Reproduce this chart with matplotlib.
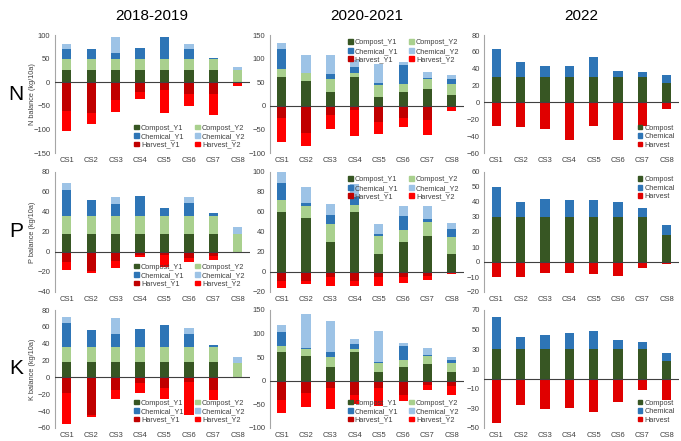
import numpy as np
import matplotlib
matplotlib.use('Agg')
import matplotlib.pyplot as plt
from matplotlib.patches import Patch

plt.rcParams['font.family'] = ['Liberation Sans', 'DejaVu Sans']

sites = ['CS1', 'CS2', 'CS3', 'CS4', 'CS5', 'CS6', 'CS7', 'CS8']
years = ['2018-2019', '2020-2021', '2022']
nutrients = ['N', 'P', 'K']

# N balance, 2018-2019
n1_comp_y1 = [25, 25, 25, 25, 25, 25, 25, 0]
n1_comp_y2 = [25, 25, 25, 25, 25, 25, 25, 25]
n1_chem_y1 = [20, 20, 12, 22, 45, 20, 2, 0]
n1_chem_y2 = [10, 0, 33, 0, 0, 10, 0, 7]
n1_harv_y1 = [-62, -65, -38, -20, -16, -25, -26, -2]
n1_harv_y2 = [-41, -24, -25, -16, -50, -25, -44, -6]
# N balance, 2020-2021
n2_comp_y1 = [60, 53, 30, 60, 18, 30, 36, 23]
n2_comp_y2 = [17, 17, 26, 10, 27, 17, 20, 24]
n2_chem_y1 = [44, 0, 12, 12, 3, 40, 2, 10]
n2_chem_y2 = [13, 38, 40, 14, 40, 5, 14, 8]
n2_harv_y1 = [-26, -58, -19, -8, -34, -26, -30, -3]
n2_harv_y2 = [-50, -27, -31, -55, -26, -19, -32, -9]
# N balance, 2022
n3_comp = [30, 30, 30, 30, 30, 30, 30, 23]
n3_chem = [33, 18, 13, 13, 24, 7, 6, 10]
n3_harv = [-28, -29, -32, -45, -28, -45, -28, -8]

# P balance, 2018-2019
p1_comp_y1 = [18, 18, 18, 18, 18, 18, 18, 0]
p1_comp_y2 = [18, 18, 18, 18, 18, 18, 18, 18]
p1_chem_y1 = [26, 16, 12, 20, 8, 13, 3, 0]
p1_chem_y2 = [7, 0, 7, 0, 0, 6, 0, 7]
p1_harv_y1 = [-10, -19, -9, -3, -3, -6, -4, -0.5]
p1_harv_y2 = [-8, -2, -7, -2, -12, -4, -4, -0.5]
# P balance, 2020-2021
p2_comp_y1 = [60, 54, 30, 60, 18, 30, 36, 18]
p2_comp_y2 = [12, 12, 18, 7, 18, 12, 14, 17]
p2_chem_y1 = [17, 3, 9, 8, 2, 14, 3, 8]
p2_chem_y2 = [11, 16, 11, 13, 10, 10, 13, 6]
p2_harv_y1 = [-9, -9, -5, -9, -5, -5, -4, -1]
p2_harv_y2 = [-7, -3, -9, -5, -9, -6, -4, -1]
# P balance, 2022
p3_comp = [30, 30, 30, 30, 30, 30, 30, 18]
p3_chem = [20, 10, 12, 11, 11, 10, 6, 7]
p3_harv = [-10, -10, -7, -7, -8, -9, -4, -1]

# K balance, 2018-2019
k1_comp_y1 = [18, 18, 18, 18, 18, 18, 18, 0]
k1_comp_y2 = [18, 18, 18, 18, 18, 18, 18, 17]
k1_chem_y1 = [29, 20, 15, 22, 26, 16, 3, 0]
k1_chem_y2 = [7, 0, 20, 0, 0, 7, 0, 7]
k1_harv_y1 = [-19, -45, -15, -7, -13, -5, -15, -0.5]
k1_harv_y2 = [-36, -2, -10, -12, -13, -40, -12, -0.5]
# K balance, 2020-2021
k2_comp_y1 = [60, 53, 30, 60, 18, 30, 36, 18]
k2_comp_y2 = [13, 15, 20, 8, 20, 15, 17, 19]
k2_chem_y1 = [30, 2, 12, 10, 2, 28, 2, 7]
k2_chem_y2 = [15, 72, 65, 11, 66, 8, 14, 7]
k2_harv_y1 = [-40, -25, -15, -30, -15, -30, -8, -10]
k2_harv_y2 = [-28, -31, -44, -19, -38, -13, -12, -21]
# K balance, 2022
k3_comp = [30, 30, 30, 30, 30, 30, 30, 18]
k3_chem = [33, 13, 15, 17, 19, 9, 7, 8]
k3_harv = [-45, -27, -31, -30, -34, -24, -11, -22]

# colores (Excel)
c_comp1, c_comp2 = '#375623', '#A9D08E'
c_chem1, c_chem2 = '#2E75B6', '#9DC3E6'
c_harv1, c_harv2 = '#C00000', '#FF0000'

W, H = 681, 441
fig = plt.figure(figsize=(W / 100, H / 100), dpi=100)

col_x = [(54.5, 250), (269.6, 463.8), (484, 679)]
row_y = [(35, 153), (172, 292), (310, 428)]

ylims = [[(-150, 100, 50), (-100, 150, 50), (-60, 80, 20)],
         [(-40, 80, 20), (-20, 100, 20), (-20, 60, 10)],
         [(-60, 80, 20), (-100, 150, 50), (-50, 70, 20)]]
leg_loc = [['lower right', 'upper right', 'lower right'],
           ['lower right', 'upper right', 'upper right'],
           ['lower right', 'lower right', 'lower right']]

two_year = {
    (0, 0): (n1_comp_y1, n1_comp_y2, n1_chem_y1, n1_chem_y2, n1_harv_y1, n1_harv_y2),
    (0, 1): (n2_comp_y1, n2_comp_y2, n2_chem_y1, n2_chem_y2, n2_harv_y1, n2_harv_y2),
    (1, 0): (p1_comp_y1, p1_comp_y2, p1_chem_y1, p1_chem_y2, p1_harv_y1, p1_harv_y2),
    (1, 1): (p2_comp_y1, p2_comp_y2, p2_chem_y1, p2_chem_y2, p2_harv_y1, p2_harv_y2),
    (2, 0): (k1_comp_y1, k1_comp_y2, k1_chem_y1, k1_chem_y2, k1_harv_y1, k1_harv_y2),
    (2, 1): (k2_comp_y1, k2_comp_y2, k2_chem_y1, k2_chem_y2, k2_harv_y1, k2_harv_y2),
}
one_year = {
    0: (n3_comp, n3_chem, n3_harv),
    1: (p3_comp, p3_chem, p3_harv),
    2: (k3_comp, k3_chem, k3_harv),
}

x = np.arange(len(sites))
bw = 0.38
txt = '#404040'

for r in range(3):
    for c in range(3):
        x0, x1 = col_x[c]
        top, bot = row_y[r]
        ax = fig.add_axes([x0 / W, 1 - bot / H, (x1 - x0) / W, (bot - top) / H])

        if c < 2:
            cy1, cy2, hy1, hy2, ky1, ky2 = [np.array(v, float) for v in two_year[(r, c)]]
            ax.bar(x, cy1, bw, color=c_comp1)
            ax.bar(x, cy2, bw, bottom=cy1, color=c_comp2)
            ax.bar(x, hy1, bw, bottom=cy1 + cy2, color=c_chem1)
            ax.bar(x, hy2, bw, bottom=cy1 + cy2 + hy1, color=c_chem2)
            ax.bar(x, ky1, bw, color=c_harv1)
            ax.bar(x, ky2, bw, bottom=ky1, color=c_harv2)
            handles = [Patch(color=c_comp1, label='Compost_Y1'),
                       Patch(color=c_chem1, label='Chemical_Y1'),
                       Patch(color=c_harv1, label='Harvest_Y1'),
                       Patch(color=c_comp2, label='Compost_Y2'),
                       Patch(color=c_chem2, label='Chemical_Y2'),
                       Patch(color=c_harv2, label='Harvest_Y2')]
            ncol = 2
        else:
            comp, chem, harv = [np.array(v, float) for v in one_year[r]]
            ax.bar(x, comp, bw, color=c_comp1)
            ax.bar(x, chem, bw, bottom=comp, color=c_chem1)
            ax.bar(x, harv, bw, color='#E00000')
            handles = [Patch(color=c_comp1, label='Compost'),
                       Patch(color=c_chem1, label='Chemical'),
                       Patch(color='#E00000', label='Harvest')]
            ncol = 1

        lo, hi, step = ylims[r][c]
        ax.set_ylim(lo, hi)
        ax.set_yticks(np.arange(lo, hi + 1, step))
        ax.set_xlim(-0.5, len(sites) - 0.5)
        ax.set_xticks(x)
        ax.set_xticklabels(sites)
        ax.axhline(0, color='#404040', lw=0.8, zorder=3)

        for s in ['top', 'right', 'bottom']:
            ax.spines[s].set_visible(False)
        ax.spines['left'].set_color('#A6A6A6')
        ax.spines['left'].set_linewidth(0.8)
        ax.tick_params(length=0, labelsize=5.5, colors=txt, pad=3)

        leg = ax.legend(handles=handles, loc=leg_loc[r][c], ncol=ncol, fontsize=5.3,
                        frameon=False, handlelength=0.6, handleheight=0.6,
                        handletextpad=0.3, columnspacing=1.5, labelspacing=0.2,
                        borderaxespad=0.2)
        for t in leg.get_texts():
            t.set_color(txt)

        if c == 0:
            ax.set_ylabel(nutrients[r] + ' balance (kg/10a)', fontsize=5.3, color=txt)
            ax.yaxis.set_label_coords((36 - x0) / (x1 - x0), 0.5)

# titulos de columna y fila
for c in range(3):
    x0, x1 = col_x[c]
    fig.text((x0 + x1) / 2 / W, 1 - 16 / H, years[c], ha='center', va='center', fontsize=11)
for r in range(3):
    top, bot = row_y[r]
    fig.text(16 / W, 1 - (top + bot) / 2 / H, nutrients[r], ha='center', va='center', fontsize=15)

fig.savefig('out.png', dpi=100)
